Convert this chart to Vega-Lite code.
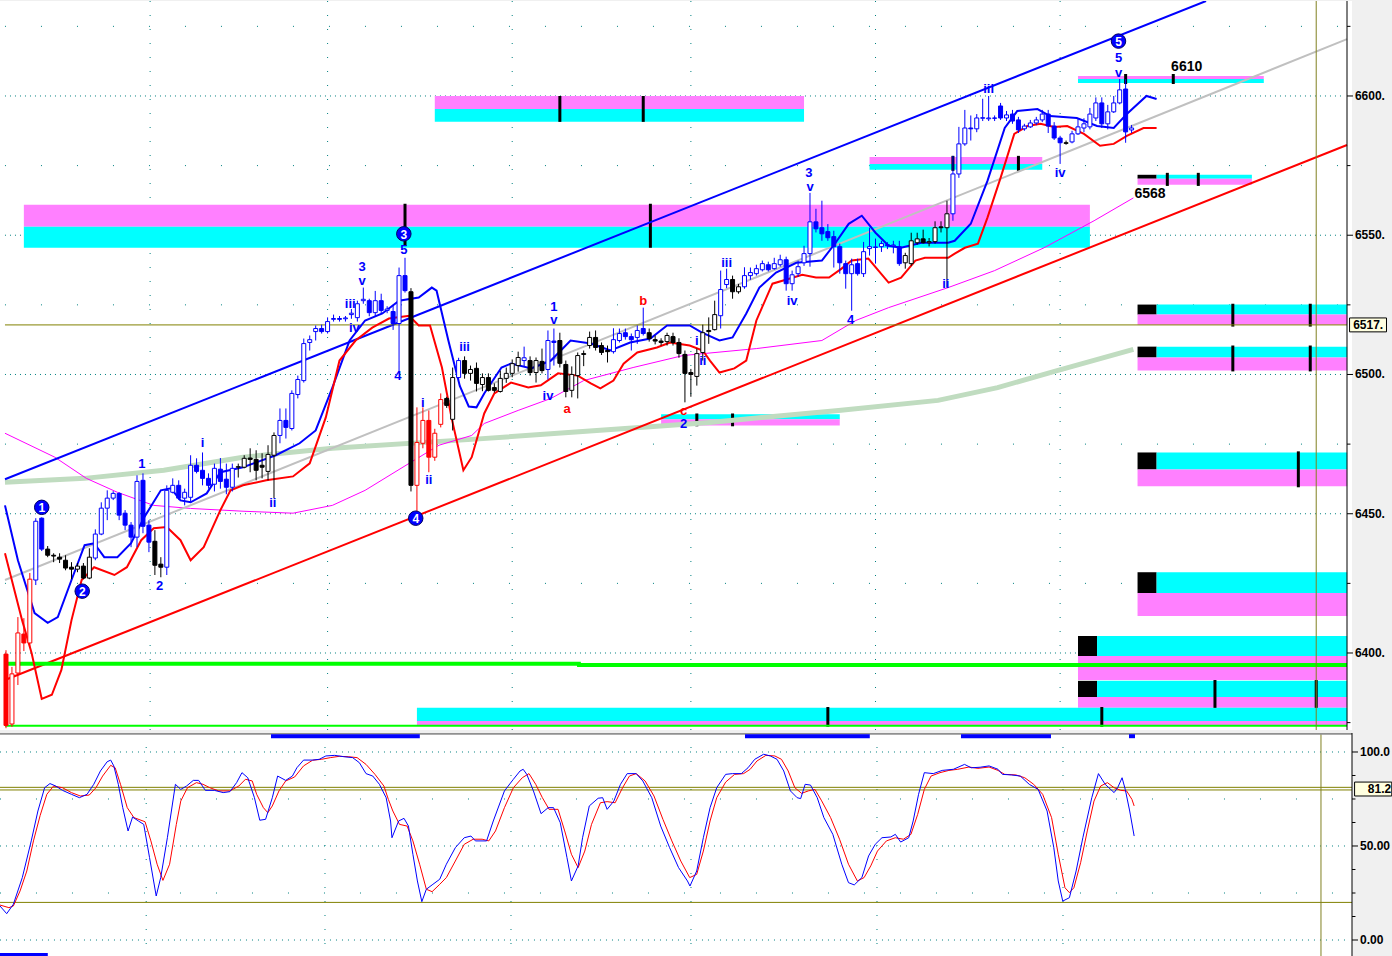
{
"$schema":"https://vega.github.io/schema/vega-lite/v6.json",
"autosize":{"type":"pad"},
"padding":0,
"spacing":3,
"bounds":"flush",
"background":"#f0f0f0",
"config":{"view":{"stroke":null,"fill":"#ffffff"},"text":{"font":"Liberation Sans"}},
"datasets":{
"candles":[
{"i":0,"o":6399.6,"h":6401,"l":6373,"c":6374,"col":"r"},
{"i":1,"o":6374.5,"h":6395,"l":6373.5,"c":6392.5,"col":"r"},
{"i":2,"o":6392.8,"h":6412.9,"l":6388.5,"c":6407.2,"col":"r"},
{"i":3,"o":6406.8,"h":6412.5,"l":6400.7,"c":6403.6,"col":"r"},
{"i":4,"o":6403.6,"h":6428.7,"l":6401.8,"c":6426.5,"col":"r"},
{"i":5,"o":6426.2,"h":6448.4,"l":6424.4,"c":6447.3,"col":"b"},
{"i":6,"o":6448.4,"h":6448.7,"l":6436.6,"c":6437.3,"col":"b"},
{"i":7,"o":6437.3,"h":6438.4,"l":6434.4,"c":6435.1,"col":"k"},
{"i":8,"o":6435.1,"h":6435.8,"l":6432.6,"c":6434.8,"col":"k"},
{"i":9,"o":6434.4,"h":6435.8,"l":6432.3,"c":6433.7,"col":"k"},
{"i":10,"o":6433.3,"h":6435.1,"l":6429.7,"c":6430.5,"col":"k"},
{"i":11,"o":6430.8,"h":6432.6,"l":6426.5,"c":6430.1,"col":"k"},
{"i":12,"o":6430.1,"h":6432.3,"l":6429,"c":6431.2,"col":"k"},
{"i":13,"o":6431.2,"h":6432.3,"l":6426.5,"c":6426.9,"col":"k"},
{"i":14,"o":6426.9,"h":6437.6,"l":6426.5,"c":6434.4,"col":"k"},
{"i":15,"o":6434.1,"h":6444.4,"l":6433.3,"c":6442.7,"col":"b"},
{"i":16,"o":6442.7,"h":6454.1,"l":6442.3,"c":6452,"col":"b"},
{"i":17,"o":6452,"h":6458.4,"l":6447.7,"c":6455.6,"col":"b"},
{"i":18,"o":6455.6,"h":6458.1,"l":6454.9,"c":6457.3,"col":"b"},
{"i":19,"o":6457.3,"h":6457.7,"l":6447.7,"c":6449.5,"col":"b"},
{"i":20,"o":6450.2,"h":6451.3,"l":6444.1,"c":6445.9,"col":"b"},
{"i":21,"o":6445.9,"h":6447,"l":6438,"c":6441.6,"col":"b"},
{"i":22,"o":6441.6,"h":6463.8,"l":6438,"c":6461.6,"col":"b"},
{"i":23,"o":6462,"h":6464.5,"l":6443,"c":6445.5,"col":"b"},
{"i":24,"o":6445.9,"h":6447.7,"l":6436.2,"c":6439.8,"col":"b"},
{"i":25,"o":6440.1,"h":6444.1,"l":6428,"c":6431.5,"col":"k"},
{"i":26,"o":6431.9,"h":6434.4,"l":6427.2,"c":6430.8,"col":"k"},
{"i":27,"o":6430.8,"h":6460.2,"l":6428,"c":6458.4,"col":"b"},
{"i":28,"o":6457.7,"h":6462.7,"l":6457.3,"c":6460.2,"col":"b"},
{"i":29,"o":6460.2,"h":6462,"l":6454.9,"c":6455.6,"col":"b"},
{"i":30,"o":6455.6,"h":6459,"l":6453,"c":6457.7,"col":"b"},
{"i":31,"o":6455.9,"h":6471,"l":6454.1,"c":6467.4,"col":"b"},
{"i":32,"o":6467.4,"h":6469.9,"l":6464.5,"c":6465.2,"col":"b"},
{"i":33,"o":6465.6,"h":6472,"l":6460.2,"c":6462.7,"col":"b"},
{"i":34,"o":6462.7,"h":6464.5,"l":6459,"c":6460.2,"col":"b"},
{"i":35,"o":6460.6,"h":6468,"l":6458,"c":6466.3,"col":"b"},
{"i":36,"o":6466,"h":6470,"l":6459,"c":6461.6,"col":"b"},
{"i":37,"o":6462.4,"h":6468,"l":6457,"c":6459.5,"col":"b"},
{"i":38,"o":6459.5,"h":6468,"l":6458,"c":6466.3,"col":"b"},
{"i":39,"o":6466.7,"h":6468,"l":6463,"c":6466.9,"col":"k"},
{"i":40,"o":6466.7,"h":6471,"l":6466.3,"c":6469.9,"col":"k"},
{"i":41,"o":6470,"h":6473.5,"l":6464.9,"c":6469.5,"col":"k"},
{"i":42,"o":6469.5,"h":6472.8,"l":6462,"c":6465.6,"col":"k"},
{"i":43,"o":6467.4,"h":6471.7,"l":6462.7,"c":6466.7,"col":"k"},
{"i":44,"o":6465.2,"h":6474.6,"l":6462,"c":6471.3,"col":"k"},
{"i":45,"o":6471,"h":6479.2,"l":6455.6,"c":6478.1,"col":"k"},
{"i":46,"o":6478.1,"h":6487.8,"l":6475.3,"c":6483.5,"col":"b"},
{"i":47,"o":6483.5,"h":6487.8,"l":6477,"c":6481,"col":"b"},
{"i":48,"o":6480.6,"h":6494.3,"l":6479.9,"c":6493.2,"col":"b"},
{"i":49,"o":6492.8,"h":6499.6,"l":6491.4,"c":6498.2,"col":"b"},
{"i":50,"o":6497.8,"h":6512.9,"l":6497.1,"c":6511.1,"col":"b"},
{"i":51,"o":6511.5,"h":6514,"l":6508.6,"c":6512.5,"col":"b"},
{"i":52,"o":6515.4,"h":6517.6,"l":6512.2,"c":6516.5,"col":"b"},
{"i":53,"o":6516.5,"h":6517.9,"l":6514.7,"c":6515.4,"col":"b"},
{"i":54,"o":6515.4,"h":6520.5,"l":6514.7,"c":6519,"col":"b"},
{"i":55,"o":6519.8,"h":6521.5,"l":6519,"c":6520.1,"col":"b"},
{"i":56,"o":6520.1,"h":6521,"l":6519,"c":6519.8,"col":"b"},
{"i":57,"o":6520,"h":6521,"l":6519,"c":6520.3,"col":"b"},
{"i":58,"o":6521.5,"h":6523.5,"l":6520,"c":6522,"col":"b"},
{"i":59,"o":6520.4,"h":6526.5,"l":6519,"c":6525.4,"col":"b"},
{"i":60,"o":6526.5,"h":6531.2,"l":6525.4,"c":6527,"col":"b"},
{"i":61,"o":6526.5,"h":6527.2,"l":6520.9,"c":6522.2,"col":"b"},
{"i":62,"o":6522.2,"h":6530,"l":6521,"c":6526.5,"col":"b"},
{"i":63,"o":6526.5,"h":6529,"l":6522,"c":6523,"col":"b"},
{"i":64,"o":6523,"h":6524.5,"l":6522,"c":6523.5,"col":"b"},
{"i":65,"o":6522.6,"h":6525,"l":6516,"c":6518.3,"col":"b"},
{"i":66,"o":6518.3,"h":6538.4,"l":6500.7,"c":6535.5,"col":"b"},
{"i":67,"o":6535.5,"h":6541.9,"l":6529.4,"c":6530.1,"col":"b"},
{"i":68,"o":6529.7,"h":6531,"l":6458,"c":6460.2,"col":"k"},
{"i":69,"o":6460.2,"h":6488.2,"l":6447.7,"c":6475.6,"col":"r"},
{"i":70,"o":6475.3,"h":6488.2,"l":6473.5,"c":6483.5,"col":"r"},
{"i":71,"o":6483.5,"h":6487.1,"l":6464.9,"c":6470.3,"col":"r"},
{"i":72,"o":6470.3,"h":6480.5,"l":6469,"c":6478.9,"col":"r"},
{"i":73,"o":6482.1,"h":6493.2,"l":6481,"c":6491,"col":"r"},
{"i":74,"o":6491.4,"h":6492,"l":6488,"c":6488.9,"col":"k"},
{"i":75,"o":6483.9,"h":6502.5,"l":6479.9,"c":6498.9,"col":"k"},
{"i":76,"o":6498.9,"h":6506,"l":6498,"c":6505,"col":"b"},
{"i":77,"o":6505,"h":6506.5,"l":6498.5,"c":6500.4,"col":"k"},
{"i":78,"o":6500.4,"h":6503.2,"l":6497.8,"c":6501.8,"col":"k"},
{"i":79,"o":6502.2,"h":6504.3,"l":6493.9,"c":6496.8,"col":"k"},
{"i":80,"o":6496.4,"h":6500.4,"l":6494,"c":6498.9,"col":"k"},
{"i":81,"o":6498.9,"h":6500.4,"l":6493.9,"c":6494.3,"col":"k"},
{"i":82,"o":6495.3,"h":6496.8,"l":6493.5,"c":6494.3,"col":"k"},
{"i":83,"o":6493.9,"h":6501.4,"l":6493.5,"c":6498.6,"col":"k"},
{"i":84,"o":6498.6,"h":6502.5,"l":6497,"c":6500.4,"col":"k"},
{"i":85,"o":6500.4,"h":6505.4,"l":6499,"c":6503.9,"col":"k"},
{"i":86,"o":6503.2,"h":6508.2,"l":6501,"c":6506.1,"col":"k"},
{"i":87,"o":6505,"h":6510,"l":6503,"c":6506,"col":"b"},
{"i":88,"o":6505,"h":6506.5,"l":6499.6,"c":6500.7,"col":"k"},
{"i":89,"o":6500.7,"h":6506.1,"l":6497.1,"c":6505,"col":"k"},
{"i":90,"o":6504.7,"h":6509.3,"l":6500.4,"c":6501.4,"col":"k"},
{"i":91,"o":6501.8,"h":6515.8,"l":6498.2,"c":6512.2,"col":"b"},
{"i":92,"o":6512,"h":6516.5,"l":6503.2,"c":6511.5,"col":"b"},
{"i":93,"o":6512.2,"h":6515,"l":6502.5,"c":6504,"col":"k"},
{"i":94,"o":6503.6,"h":6505,"l":6491.8,"c":6493.9,"col":"k"},
{"i":95,"o":6494.3,"h":6502.9,"l":6491.8,"c":6500,"col":"k"},
{"i":96,"o":6499.6,"h":6507.9,"l":6491.4,"c":6506.8,"col":"k"},
{"i":97,"o":6507.5,"h":6508.6,"l":6503,"c":6507.2,"col":"k"},
{"i":98,"o":6510.4,"h":6515.4,"l":6509.3,"c":6513.3,"col":"k"},
{"i":99,"o":6513.3,"h":6515.8,"l":6508.6,"c":6509.7,"col":"k"},
{"i":100,"o":6510.4,"h":6511.5,"l":6507,"c":6507.9,"col":"k"},
{"i":101,"o":6508.6,"h":6510.4,"l":6504.3,"c":6508.2,"col":"k"},
{"i":102,"o":6508.2,"h":6516.6,"l":6507.5,"c":6512.5,"col":"b"},
{"i":103,"o":6512.2,"h":6516.5,"l":6511.5,"c":6514.7,"col":"b"},
{"i":104,"o":6515,"h":6516.5,"l":6512.5,"c":6513.6,"col":"b"},
{"i":105,"o":6513.6,"h":6514.7,"l":6508.6,"c":6512.5,"col":"b"},
{"i":106,"o":6513.3,"h":6517.6,"l":6511,"c":6515.8,"col":"b"},
{"i":107,"o":6516.5,"h":6524,"l":6514,"c":6514.7,"col":"b"},
{"i":108,"o":6515,"h":6516.5,"l":6511.8,"c":6512.9,"col":"k"},
{"i":109,"o":6512.5,"h":6514,"l":6510.8,"c":6512,"col":"k"},
{"i":110,"o":6512,"h":6513,"l":6510.4,"c":6511.5,"col":"k"},
{"i":111,"o":6511.8,"h":6515,"l":6510.4,"c":6514,"col":"k"},
{"i":112,"o":6513.6,"h":6515,"l":6510.4,"c":6511.5,"col":"k"},
{"i":113,"o":6511.5,"h":6513,"l":6506,"c":6507.5,"col":"k"},
{"i":114,"o":6507.2,"h":6508.6,"l":6490,"c":6500.4,"col":"k"},
{"i":115,"o":6500.7,"h":6502,"l":6492,"c":6500,"col":"k"},
{"i":116,"o":6499.3,"h":6509.3,"l":6496,"c":6507.5,"col":"k"},
{"i":117,"o":6507.9,"h":6517.9,"l":6505,"c":6515,"col":"k"},
{"i":118,"o":6515.8,"h":6520.5,"l":6511,"c":6515.4,"col":"k"},
{"i":119,"o":6516.1,"h":6526.5,"l":6515.8,"c":6521.5,"col":"k"},
{"i":120,"o":6521.1,"h":6537.3,"l":6516.5,"c":6530.5,"col":"b"},
{"i":121,"o":6532.3,"h":6538,"l":6531,"c":6534.1,"col":"b"},
{"i":122,"o":6534.1,"h":6535.5,"l":6527.2,"c":6529.7,"col":"k"},
{"i":123,"o":6529.7,"h":6532.5,"l":6529,"c":6531.5,"col":"k"},
{"i":124,"o":6531.5,"h":6538.5,"l":6530.8,"c":6535.5,"col":"b"},
{"i":125,"o":6535.5,"h":6538.4,"l":6534,"c":6536.6,"col":"b"},
{"i":126,"o":6536.2,"h":6539.4,"l":6535.5,"c":6538,"col":"b"},
{"i":127,"o":6537.6,"h":6540.9,"l":6537,"c":6539.8,"col":"b"},
{"i":128,"o":6539.4,"h":6540.5,"l":6537,"c":6537.6,"col":"b"},
{"i":129,"o":6538,"h":6541.9,"l":6537.6,"c":6539.8,"col":"b"},
{"i":130,"o":6539.4,"h":6543,"l":6538.7,"c":6541.2,"col":"b"},
{"i":131,"o":6541.2,"h":6542.3,"l":6530.1,"c":6532.6,"col":"b"},
{"i":132,"o":6532.6,"h":6537.3,"l":6530.1,"c":6535.8,"col":"b"},
{"i":133,"o":6536.2,"h":6540.9,"l":6535,"c":6538.7,"col":"b"},
{"i":134,"o":6540.1,"h":6546.2,"l":6539,"c":6543.4,"col":"b"},
{"i":135,"o":6543.4,"h":6565.2,"l":6538.7,"c":6554.8,"col":"b"},
{"i":136,"o":6554.8,"h":6559.5,"l":6551,"c":6552.3,"col":"b"},
{"i":137,"o":6552.7,"h":6562.4,"l":6548,"c":6550.5,"col":"b"},
{"i":138,"o":6551.3,"h":6554,"l":6548,"c":6549.1,"col":"b"},
{"i":139,"o":6549.5,"h":6551.6,"l":6538.4,"c":6545.9,"col":"b"},
{"i":140,"o":6545.9,"h":6547,"l":6536.2,"c":6540.1,"col":"b"},
{"i":141,"o":6539.8,"h":6540.9,"l":6530.8,"c":6536.2,"col":"b"},
{"i":142,"o":6536.2,"h":6541.6,"l":6522.9,"c":6539.4,"col":"b"},
{"i":143,"o":6539.8,"h":6541.6,"l":6535.5,"c":6536.2,"col":"b"},
{"i":144,"o":6536.2,"h":6547.6,"l":6535,"c":6544.1,"col":"b"},
{"i":145,"o":6545.2,"h":6552.7,"l":6542.7,"c":6545.9,"col":"b"},
{"i":146,"o":6545.6,"h":6548.8,"l":6539.8,"c":6545.8,"col":"b"},
{"i":147,"o":6545.9,"h":6548,"l":6544,"c":6547,"col":"b"},
{"i":148,"o":6546.6,"h":6547.5,"l":6545,"c":6546.2,"col":"b"},
{"i":149,"o":6546.2,"h":6548,"l":6543.5,"c":6546.5,"col":"b"},
{"i":150,"o":6545.9,"h":6548,"l":6539,"c":6539.8,"col":"b"},
{"i":151,"o":6540.1,"h":6543.7,"l":6538,"c":6542.7,"col":"k"},
{"i":152,"o":6539.8,"h":6550.9,"l":6539,"c":6548,"col":"k"},
{"i":153,"o":6547.3,"h":6550.9,"l":6546.6,"c":6548.7,"col":"k"},
{"i":154,"o":6548.7,"h":6552,"l":6547,"c":6547.3,"col":"k"},
{"i":155,"o":6547.3,"h":6549,"l":6546,"c":6547.7,"col":"k"},
{"i":156,"o":6547.7,"h":6555,"l":6547,"c":6552.7,"col":"k"},
{"i":157,"o":6553,"h":6555,"l":6551,"c":6552.7,"col":"k"},
{"i":158,"o":6552.7,"h":6562.4,"l":6531.2,"c":6557.7,"col":"k"},
{"i":159,"o":6557.7,"h":6578.5,"l":6555.2,"c":6572,"col":"b"},
{"i":160,"o":6572,"h":6588.9,"l":6570.6,"c":6582.8,"col":"b"},
{"i":161,"o":6582.8,"h":6595,"l":6582.1,"c":6588.5,"col":"b"},
{"i":162,"o":6588.5,"h":6593,"l":6584,"c":6588.2,"col":"b"},
{"i":163,"o":6588.2,"h":6593.5,"l":6587,"c":6592.1,"col":"b"},
{"i":164,"o":6592,"h":6599,"l":6591,"c":6592.2,"col":"b"},
{"i":165,"o":6591.8,"h":6600,"l":6591,"c":6592.1,"col":"b"},
{"i":166,"o":6592.1,"h":6593,"l":6591,"c":6592,"col":"b"},
{"i":167,"o":6596.4,"h":6597.5,"l":6591.4,"c":6592.1,"col":"b"},
{"i":168,"o":6592.1,"h":6594.6,"l":6591,"c":6593.2,"col":"b"},
{"i":169,"o":6593.5,"h":6595,"l":6590,"c":6591,"col":"b"},
{"i":170,"o":6591.4,"h":6592.5,"l":6586.7,"c":6587.8,"col":"b"},
{"i":171,"o":6588.2,"h":6590,"l":6587.5,"c":6589.2,"col":"b"},
{"i":172,"o":6588.9,"h":6591.4,"l":6588.5,"c":6590.3,"col":"b"},
{"i":173,"o":6590.3,"h":6592.5,"l":6589.5,"c":6591.4,"col":"b"},
{"i":174,"o":6591.4,"h":6595,"l":6590.6,"c":6593.5,"col":"b"},
{"i":175,"o":6593.5,"h":6595,"l":6586.7,"c":6589.2,"col":"b"},
{"i":176,"o":6589.2,"h":6590.6,"l":6584.2,"c":6584.9,"col":"b"},
{"i":177,"o":6584.9,"h":6585.7,"l":6575.6,"c":6583.2,"col":"b"},
{"i":178,"o":6583.2,"h":6584,"l":6582.5,"c":6583,"col":"k"},
{"i":179,"o":6583.5,"h":6587.5,"l":6583,"c":6586.4,"col":"b"},
{"i":180,"o":6586.4,"h":6591.7,"l":6586,"c":6588.9,"col":"b"},
{"i":181,"o":6588.5,"h":6592,"l":6587,"c":6590,"col":"b"},
{"i":182,"o":6588.9,"h":6595.7,"l":6588,"c":6593.5,"col":"b"},
{"i":183,"o":6592.1,"h":6599.5,"l":6591,"c":6597.5,"col":"b"},
{"i":184,"o":6597.5,"h":6599.5,"l":6588.5,"c":6590,"col":"b"},
{"i":185,"o":6590,"h":6596.8,"l":6588,"c":6594.3,"col":"b"},
{"i":186,"o":6594.3,"h":6600,"l":6593.9,"c":6597.5,"col":"b"},
{"i":187,"o":6597.5,"h":6606.1,"l":6597,"c":6602.2,"col":"b"},
{"i":188,"o":6602.5,"h":6606,"l":6583.2,"c":6587.1,"col":"b"},
{"i":189,"o":6587.8,"h":6589.6,"l":6586.7,"c":6588.5,"col":"b"}
],
"zones":[
{"x1":72,"x2":134,"y1":6600,"y2":6595.3,"k":"pink"},
{"x1":72,"x2":134,"y1":6595.3,"y2":6590.7,"k":"cyan"},
{"x1":3,"x2":182,"y1":6560.9,"y2":6553,"k":"pink"},
{"x1":3,"x2":182,"y1":6553,"y2":6545.5,"k":"cyan"},
{"x1":145,"x2":174,"y1":6578.1,"y2":6575.6,"k":"pink"},
{"x1":145,"x2":174,"y1":6575.6,"y2":6573.5,"k":"cyan"},
{"x1":180,"x2":211.2,"y1":6607.2,"y2":6606.1,"k":"pink"},
{"x1":180,"x2":211.2,"y1":6606.1,"y2":6604.7,"k":"cyan"},
{"x1":190,"x2":193.2,"y1":6571.7,"y2":6570.3,"k":"black"},
{"x1":193.2,"x2":209.2,"y1":6571.7,"y2":6570.3,"k":"cyan"},
{"x1":190,"x2":209.2,"y1":6570.3,"y2":6568.1,"k":"pink"},
{"x1":190,"x2":193.2,"y1":6525.1,"y2":6521.5,"k":"black"},
{"x1":193.2,"x2":225.2,"y1":6525.1,"y2":6521.5,"k":"cyan"},
{"x1":190,"x2":225.2,"y1":6521.5,"y2":6517.9,"k":"pink"},
{"x1":190,"x2":193.2,"y1":6510,"y2":6506.1,"k":"black"},
{"x1":193.2,"x2":225.2,"y1":6510,"y2":6506.1,"k":"cyan"},
{"x1":190,"x2":225.2,"y1":6506.1,"y2":6501.4,"k":"pink"},
{"x1":190,"x2":193.2,"y1":6472,"y2":6465.9,"k":"black"},
{"x1":193.2,"x2":225.2,"y1":6472,"y2":6465.9,"k":"cyan"},
{"x1":190,"x2":225.2,"y1":6465.9,"y2":6459.9,"k":"pink"},
{"x1":190,"x2":193.2,"y1":6429,"y2":6421.5,"k":"black"},
{"x1":193.2,"x2":225.2,"y1":6429,"y2":6421.5,"k":"cyan"},
{"x1":190,"x2":225.2,"y1":6421.5,"y2":6413.3,"k":"pink"},
{"x1":180,"x2":183.2,"y1":6406.1,"y2":6398.9,"k":"black"},
{"x1":183.2,"x2":225.2,"y1":6406.1,"y2":6398.9,"k":"cyan"},
{"x1":180,"x2":225.2,"y1":6398.9,"y2":6390.3,"k":"pink"},
{"x1":180,"x2":183.2,"y1":6390,"y2":6384.2,"k":"black"},
{"x1":183.2,"x2":225.2,"y1":6390,"y2":6384.2,"k":"cyan"},
{"x1":180,"x2":225.2,"y1":6384.2,"y2":6380.3,"k":"pink"},
{"x1":69,"x2":225.2,"y1":6380.3,"y2":6375.6,"k":"cyan"},
{"x1":69,"x2":225.2,"y1":6375.6,"y2":6373.8,"k":"pink"},
{"x1":110,"x2":140,"y1":6485.7,"y2":6483.9,"k":"cyan"},
{"x1":110,"x2":140,"y1":6483.9,"y2":6481.7,"k":"pink"}
],
"zoneTicks":[
{"i":93,"y1":6600,"y2":6590.7},{"i":107,"y1":6600,"y2":6590.7},
{"i":67,"y1":6561.3,"y2":6546.2},{"i":108.2,"y1":6561.3,"y2":6545.5},
{"i":159,"y1":6578.5,"y2":6573.1},{"i":170,"y1":6578.5,"y2":6573.1},
{"i":188,"y1":6607.9,"y2":6604.3},{"i":196,"y1":6607.9,"y2":6604.3},
{"i":195,"y1":6572.4,"y2":6567.7},{"i":200.2,"y1":6572.4,"y2":6567.7},
{"i":206,"y1":6525.4,"y2":6517.2},{"i":219,"y1":6525.4,"y2":6517.2},
{"i":206,"y1":6510.4,"y2":6501.1},{"i":219,"y1":6510.4,"y2":6501.1},
{"i":217,"y1":6472.4,"y2":6459.5},
{"i":203,"y1":6390.3,"y2":6380.3},{"i":220,"y1":6390.3,"y2":6380.3},
{"i":138,"y1":6380.6,"y2":6373.5},{"i":184,"y1":6380.6,"y2":6373.5},
{"i":116,"y1":6486,"y2":6481.4},{"i":122,"y1":6486,"y2":6481.4}
],
"maGreen":[
{"i":-0.17,"p":6461.3},{"i":13.2,"p":6462.7},{"i":26.5,"p":6465.6},{"i":39.8,"p":6470.3},{"i":54.8,"p":6473.5},{"i":78.2,"p":6476.7},{"i":99.8,"p":6480},{"i":118.2,"p":6482.8},{"i":139.8,"p":6487.1},{"i":156.5,"p":6490.7},{"i":166.5,"p":6495.3},{"i":176.5,"p":6501.4},{"i":189.3,"p":6509}
],
"maMag":[
{"i":-0.17,"p":6478.9},{"i":8.2,"p":6470.3},{"i":13.5,"p":6462.7},{"i":18.7,"p":6457.7},{"i":24.8,"p":6453},{"i":31,"p":6451.9},{"i":39.8,"p":6450.9},{"i":48.2,"p":6450.2},{"i":54.8,"p":6453},{"i":60.3,"p":6458.4},{"i":67.7,"p":6468.1},{"i":72.7,"p":6474.6},{"i":78.2,"p":6478.1},{"i":80.3,"p":6482.4},{"i":86,"p":6487.1},{"i":91.5,"p":6491.4},{"i":97,"p":6497.8},{"i":105.3,"p":6502.5},{"i":113.7,"p":6506.8},{"i":126,"p":6509.3},{"i":137,"p":6512.2},{"i":142.7,"p":6519.4},{"i":148.2,"p":6524},{"i":158.2,"p":6531.2},{"i":166,"p":6537.3},{"i":174.3,"p":6545.5},{"i":182.7,"p":6555.2},{"i":189.3,"p":6563.4}
],
"straight":[
{"s":"gray","i":-0.17,"p":6426.2},{"s":"gray","i":225.17,"p":6620.4},
{"s":"chblue","i":-0.17,"p":6462.4},{"s":"chblue","i":201.5,"p":6634.1},
{"s":"chred","i":-0.17,"p":6390.3},{"s":"chred","i":225.17,"p":6582.4}
],
"bandBlue":[
{"i":-0.17,"p":6453},{"i":2,"p":6433.3},{"i":4.8,"p":6414.3},{"i":7,"p":6410.8},{"i":8.7,"p":6412.9},{"i":11,"p":6426.2},{"i":13.2,"p":6438.7},{"i":14.8,"p":6439.4},{"i":16.5,"p":6434.4},{"i":18.7,"p":6434.4},{"i":21,"p":6439.4},{"i":23.2,"p":6448.7},{"i":26,"p":6458.4},{"i":27.7,"p":6459.1},{"i":29.3,"p":6454.8},{"i":31,"p":6454.1},{"i":33.7,"p":6457.3},{"i":36,"p":6464.9},{"i":39.8,"p":6466.7},{"i":45.3,"p":6471},{"i":49.3,"p":6475.3},{"i":52,"p":6479.9},{"i":54.8,"p":6495.3},{"i":57.7,"p":6512.2},{"i":60.3,"p":6519.4},{"i":63.2,"p":6521.9},{"i":66,"p":6526.5},{"i":69.3,"p":6527.6},{"i":71.5,"p":6531.2},{"i":72.3,"p":6530.1},{"i":74.3,"p":6512},{"i":76.2,"p":6495.9},{"i":77.7,"p":6488.5},{"i":79,"p":6488.2},{"i":80.3,"p":6493.2},{"i":83.2,"p":6502.5},{"i":84.8,"p":6503.9},{"i":88.2,"p":6502.2},{"i":91.5,"p":6505},{"i":94.8,"p":6512.2},{"i":98.2,"p":6511.1},{"i":101.5,"p":6508.6},{"i":104.8,"p":6511.5},{"i":108.2,"p":6512.9},{"i":111,"p":6517.6},{"i":114.8,"p":6517.6},{"i":116.8,"p":6515.1},{"i":119.8,"p":6512.2},{"i":122,"p":6513.3},{"i":124.3,"p":6521.9},{"i":126.5,"p":6531.2},{"i":129.3,"p":6536.6},{"i":132.7,"p":6540.1},{"i":137,"p":6540.9},{"i":139.3,"p":6547.3},{"i":141.5,"p":6554.1},{"i":143.7,"p":6557},{"i":146,"p":6550.9},{"i":148.2,"p":6546.2},{"i":150.3,"p":6545.5},{"i":153.7,"p":6547.3},{"i":158.2,"p":6547.3},{"i":159.3,"p":6548},{"i":162,"p":6554.1},{"i":164.8,"p":6569.5},{"i":167.7,"p":6588.5},{"i":169.8,"p":6594.6},{"i":173.2,"p":6595.3},{"i":175.3,"p":6592.8},{"i":179.8,"p":6592.1},{"i":183.2,"p":6589.2},{"i":186,"p":6588.5},{"i":188.2,"p":6593.5},{"i":191.5,"p":6600},{"i":193.2,"p":6598.9}
],
"bandRed":[
{"i":-0.17,"p":6435.8},{"i":2.7,"p":6411.8},{"i":4.3,"p":6400},{"i":6,"p":6383.5},{"i":7.7,"p":6385},{"i":9.3,"p":6393.9},{"i":11,"p":6411.8},{"i":12.7,"p":6426.2},{"i":14.8,"p":6430.8},{"i":18.2,"p":6428},{"i":20.3,"p":6430.8},{"i":22.7,"p":6440.5},{"i":24.8,"p":6444.8},{"i":27,"p":6445.2},{"i":29.3,"p":6440.5},{"i":31,"p":6433.3},{"i":33.2,"p":6438},{"i":36,"p":6451.3},{"i":37.7,"p":6458.4},{"i":39.8,"p":6460.2},{"i":43.7,"p":6462},{"i":48.2,"p":6463.4},{"i":51,"p":6468.1},{"i":53.7,"p":6484.6},{"i":56,"p":6505},{"i":58.7,"p":6512.2},{"i":61.5,"p":6516.8},{"i":64.3,"p":6520.1},{"i":67.7,"p":6521.1},{"i":69.3,"p":6517.6},{"i":71.2,"p":6517.6},{"i":73.2,"p":6502.5},{"i":74.8,"p":6484.6},{"i":76.8,"p":6465.6},{"i":78.2,"p":6470.3},{"i":80.3,"p":6486},{"i":82,"p":6493.2},{"i":84.8,"p":6497.1},{"i":87.7,"p":6495.3},{"i":89.8,"p":6496.1},{"i":92.7,"p":6500.4},{"i":96,"p":6499.6},{"i":98.2,"p":6496.8},{"i":99.8,"p":6495},{"i":102,"p":6497.8},{"i":103.7,"p":6503.9},{"i":106,"p":6507.9},{"i":109.3,"p":6509.7},{"i":111.5,"p":6511.5},{"i":114.8,"p":6510.4},{"i":117,"p":6508.6},{"i":118.2,"p":6505},{"i":119.8,"p":6500.7},{"i":122.3,"p":6502.2},{"i":124.3,"p":6505},{"i":126,"p":6519.4},{"i":128.7,"p":6532.6},{"i":131.5,"p":6534.4},{"i":133.7,"p":6535.8},{"i":136,"p":6534.8},{"i":138.2,"p":6534.8},{"i":140.3,"p":6538},{"i":142,"p":6540.9},{"i":144.8,"p":6541.6},{"i":146.5,"p":6537.3},{"i":148.2,"p":6533},{"i":150.3,"p":6534.8},{"i":152.7,"p":6540.9},{"i":154.3,"p":6541.9},{"i":158.2,"p":6541.9},{"i":159.3,"p":6543.4},{"i":161,"p":6545.5},{"i":163.2,"p":6547},{"i":164.8,"p":6556.3},{"i":167,"p":6570.6},{"i":169.3,"p":6586.4},{"i":171.5,"p":6589.2},{"i":173.7,"p":6590},{"i":176,"p":6588.9},{"i":178.2,"p":6589.2},{"i":181,"p":6586.4},{"i":183.7,"p":6582.1},{"i":186,"p":6582.8},{"i":188.2,"p":6585.7},{"i":191,"p":6588.5},{"i":193.2,"p":6588.5}
],
"greenLevel":[
{"i":-0.17,"p":6396.1},{"i":96.2,"p":6396.1},{"i":96.21,"p":6395.7},{"i":225.17,"p":6395.7}
],
"mainLevels":[
{"p":6517.8,"x1":-0.17,"x2":225.17,"kind":"olive"},
{"p":6373.9,"x1":-0.17,"x2":225.17,"kind":"green"}
],
"mainGrid":[
{"p":6600,"kind":"dense"},{"p":6550,"kind":"dense"},{"p":6500,"kind":"dense"},{"p":6450,"kind":"dense"},{"p":6400,"kind":"dense"},
{"p":6625,"kind":"sparse"},{"p":6575,"kind":"sparse"},{"p":6525,"kind":"sparse"},{"p":6475,"kind":"sparse"},{"p":6425,"kind":"sparse"}
],
"vGrid":[{"i":24.2},{"i":54},{"i":85},{"i":115},{"i":146},{"i":177}],
"vMark":[{"i":220}],
"axisLine":[{"i":225.17}],
"mainTicks":[{"p":6600,"t":"6600."},{"p":6550,"t":"6550."},{"p":6500,"t":"6500."},{"p":6450,"t":"6450."},{"p":6400,"t":"6400."}],
"mainMinor":[{"p":6625},{"p":6575},{"p":6525},{"p":6475},{"p":6425},{"p":6375}],
"labelsBlue":[
{"i":22.8,"p":6467.7,"t":"1"},{"i":25.8,"p":6424,"t":"2"},{"i":33,"p":6475.3,"t":"i"},{"i":44.8,"p":6453.8,"t":"ii"},
{"i":59.8,"p":6538.7,"t":"3"},{"i":59.8,"p":6533.7,"t":"v"},{"i":57.8,"p":6525.4,"t":"iii"},{"i":58.5,"p":6516.8,"t":"iv"},
{"i":66.8,"p":6544.8,"t":"5"},{"i":65.8,"p":6499.6,"t":"4"},{"i":70,"p":6489.6,"t":"i"},{"i":71,"p":6462,"t":"ii"},{"i":77,"p":6510,"t":"iii"},
{"i":92,"p":6524.4,"t":"1"},{"i":92,"p":6519.4,"t":"v"},{"i":91,"p":6492.1,"t":"iv"},{"i":113.8,"p":6482.1,"t":"2"},
{"i":116,"p":6512.2,"t":"i"},{"i":117,"p":6505,"t":"ii"},{"i":121,"p":6540.1,"t":"iii"},{"i":132,"p":6526.5,"t":"iv"},
{"i":134.8,"p":6572.4,"t":"3"},{"i":135,"p":6567.4,"t":"v"},{"i":141.8,"p":6519.4,"t":"4"},{"i":157.8,"p":6532.6,"t":"ii"},
{"i":165,"p":6602.5,"t":"iii"},{"i":177,"p":6572.4,"t":"iv"},{"i":186.8,"p":6613.6,"t":"5"},{"i":186.8,"p":6608.2,"t":"v"}
],
"labelsRed":[{"i":94.2,"p":6487.5,"t":"a"},{"i":107,"p":6526.5,"t":"b"},{"i":113.8,"p":6486.8,"t":"c"}],
"labelsBlack":[{"i":198.25,"p":6610.4,"t":"6610"},{"i":192.1,"p":6564.9,"t":"6568"}],
"circles":[{"i":6,"p":6452.3,"t":"1"},{"i":12.8,"p":6422.2,"t":"2"},{"i":66.8,"p":6550.5,"t":"3"},{"i":68.8,"p":6448.4,"t":"4"},{"i":186.8,"p":6619.7,"t":"5"}],
"priceBox":[{"p":6517.8,"top":6520.3,"bottom":6515.3,"t":"6517."}],
"stochK":[
{"i":-0.17,"v":18.1},{"i":0.95,"v":14},{"i":2.06,"v":19},{"i":3.55,"v":33.2},{"i":5.04,"v":52.7},{"i":6.15,"v":68.6},{"i":7.27,"v":81},{"i":8.16,"v":83.2},{"i":9.13,"v":81.9},{"i":10.25,"v":79.6},{"i":11.73,"v":77.5},{"i":13.07,"v":75.7},{"i":14.34,"v":77.5},{"i":15.46,"v":82.8},{"i":16.57,"v":89.9},{"i":17.69,"v":94.8},{"i":18.28,"v":95.7},{"i":18.8,"v":92.6},{"i":19.55,"v":82.8},{"i":20.29,"v":70.4},{"i":21.18,"v":58},{"i":21.93,"v":65.4},{"i":22.9,"v":63.3},{"i":23.79,"v":61.5},{"i":24.76,"v":43.8},{"i":25.87,"v":23.4},{"i":26.62,"v":33.2},{"i":27.73,"v":54.4},{"i":29.07,"v":82.8},{"i":29.96,"v":80.1},{"i":30.93,"v":81.9},{"i":32.05,"v":84.9},{"i":32.94,"v":84.9},{"i":34.06,"v":79.6},{"i":35.55,"v":79.6},{"i":37.03,"v":78.4},{"i":38.15,"v":78.9},{"i":39.27,"v":83.7},{"i":40.16,"v":89},{"i":41.13,"v":86.3},{"i":42.24,"v":75.7},{"i":43.13,"v":63.7},{"i":44.1,"v":64.2},{"i":45.22,"v":75.7},{"i":46.11,"v":87.2},{"i":47.45,"v":84.9},{"i":48.57,"v":87.2},{"i":49.31,"v":91.6},{"i":50.43,"v":95.7},{"i":51.92,"v":95.7},{"i":53.03,"v":96.1},{"i":54.15,"v":97.9},{"i":55.63,"v":98.2},{"i":57.12,"v":97.5},{"i":58.61,"v":97},{"i":59.73,"v":94.3},{"i":60.84,"v":88.5},{"i":61.96,"v":87.2},{"i":63.07,"v":82.8},{"i":64.19,"v":75.7},{"i":64.93,"v":63.3},{"i":65.16,"v":54.4},{"i":66.27,"v":63.3},{"i":67.17,"v":64.7},{"i":67.91,"v":60.6},{"i":68.65,"v":45.6},{"i":69.4,"v":31.4},{"i":70.14,"v":20.4},{"i":70.89,"v":27},{"i":71.85,"v":29.3},{"i":73.12,"v":32.3},{"i":74.23,"v":40.3},{"i":75.72,"v":49.1},{"i":77.21,"v":54.4},{"i":78.33,"v":55.3},{"i":79.07,"v":52.7},{"i":80.93,"v":52.7},{"i":82.05,"v":63.3},{"i":83.91,"v":79.3},{"i":85.4,"v":85.5},{"i":86.51,"v":89.9},{"i":87.03,"v":90.8},{"i":87.63,"v":88.1},{"i":88.74,"v":79.3},{"i":90.01,"v":67.2},{"i":91.2,"v":70.4},{"i":92.09,"v":70.4},{"i":93.21,"v":62.4},{"i":94.33,"v":43.8},{"i":95.07,"v":31.4},{"i":96.19,"v":39.4},{"i":96.93,"v":54.4},{"i":98.05,"v":71.3},{"i":99.53,"v":75.4},{"i":100.28,"v":75.7},{"i":101.02,"v":69.5},{"i":102.14,"v":73.9},{"i":103.25,"v":82.8},{"i":104.37,"v":88.5},{"i":105.86,"v":88.5},{"i":106.97,"v":84.6},{"i":108.46,"v":75.7},{"i":109.95,"v":60.6},{"i":111.44,"v":49.1},{"i":112.93,"v":38.5},{"i":114.41,"v":31.4},{"i":114.83,"v":28.7},{"i":115.95,"v":36.7},{"i":117.06,"v":54.4},{"i":118.18,"v":70.4},{"i":119.29,"v":81},{"i":120.78,"v":88.1},{"i":121.9,"v":88.5},{"i":123.39,"v":88.5},{"i":124.5,"v":91.6},{"i":125.62,"v":96.1},{"i":127.11,"v":98.8},{"i":128.22,"v":97.9},{"i":129.34,"v":96.1},{"i":130.46,"v":89.9},{"i":131.57,"v":79.3},{"i":132.69,"v":75.7},{"i":133.28,"v":75.2},{"i":134.03,"v":82.8},{"i":134.92,"v":82.4},{"i":136.04,"v":75.7},{"i":137.15,"v":65.1},{"i":138.64,"v":56.2},{"i":140.13,"v":40.3},{"i":141.25,"v":30.5},{"i":142.21,"v":29.3},{"i":143.48,"v":33.2},{"i":144.6,"v":44.7},{"i":145.71,"v":50.9},{"i":146.83,"v":54.4},{"i":148.31,"v":54.8},{"i":149.06,"v":56.2},{"i":149.95,"v":52.1},{"i":151.29,"v":54.4},{"i":152.03,"v":63.3},{"i":152.93,"v":77.5},{"i":153.89,"v":89},{"i":155.38,"v":88.5},{"i":156.87,"v":90.2},{"i":158.73,"v":90.8},{"i":160.59,"v":93.4},{"i":161.71,"v":91.6},{"i":163.19,"v":91.9},{"i":164.68,"v":92.6},{"i":166.17,"v":90.8},{"i":166.91,"v":88.1},{"i":168.4,"v":87.8},{"i":169.89,"v":87.2},{"i":171.38,"v":82.8},{"i":172.86,"v":80.1},{"i":174.35,"v":68.6},{"i":175.47,"v":49.1},{"i":176.21,"v":31.4},{"i":176.96,"v":20.7},{"i":178.07,"v":22.5},{"i":179.19,"v":36.7},{"i":180.31,"v":54.4},{"i":181.8,"v":75.7},{"i":182.91,"v":88.5},{"i":184.03,"v":82.8},{"i":185.52,"v":78.4},{"i":186.11,"v":81},{"i":186.85,"v":86.3},{"i":187.38,"v":80.1},{"i":188.12,"v":68.6},{"i":188.86,"v":55.3}
],
"stochD":[
{"i":-0.17,"v":18.6},{"i":1.32,"v":17.2},{"i":2.06,"v":18.1},{"i":3.18,"v":26.1},{"i":4.3,"v":36.7},{"i":5.41,"v":52.7},{"i":6.53,"v":66.3},{"i":7.64,"v":77.5},{"i":8.76,"v":81.9},{"i":10.25,"v":81},{"i":11.73,"v":78.4},{"i":13.22,"v":76.6},{"i":14.71,"v":77.1},{"i":15.83,"v":81},{"i":16.94,"v":87.2},{"i":18.28,"v":92.9},{"i":19.03,"v":91.6},{"i":19.92,"v":82.8},{"i":21.04,"v":70.4},{"i":22.15,"v":65.1},{"i":24.01,"v":62.9},{"i":24.98,"v":52.7},{"i":26.02,"v":40.3},{"i":26.99,"v":31.7},{"i":28.1,"v":40.3},{"i":29.22,"v":61.5},{"i":29.96,"v":73.9},{"i":31.08,"v":81},{"i":32.57,"v":83.7},{"i":33.68,"v":82.8},{"i":34.8,"v":81},{"i":36.29,"v":79.3},{"i":38.15,"v":79.3},{"i":39.64,"v":81.9},{"i":40.75,"v":85.5},{"i":41.87,"v":84.6},{"i":42.61,"v":77.5},{"i":43.73,"v":70.4},{"i":44.47,"v":67.7},{"i":45.22,"v":71.3},{"i":46.33,"v":79.3},{"i":47.45,"v":84.6},{"i":48.94,"v":86.7},{"i":50.43,"v":92.6},{"i":51.92,"v":95.6},{"i":53.4,"v":96.1},{"i":54.89,"v":97},{"i":56.38,"v":97.7},{"i":57.87,"v":97.5},{"i":59.35,"v":97},{"i":60.84,"v":93.4},{"i":62.33,"v":88.1},{"i":63.82,"v":81.9},{"i":64.56,"v":74.8},{"i":65.31,"v":68.6},{"i":66.42,"v":61.5},{"i":67.69,"v":60.6},{"i":68.65,"v":52.7},{"i":69.77,"v":40.3},{"i":70.89,"v":27},{"i":71.85,"v":25.7},{"i":73.12,"v":29.6},{"i":74.23,"v":33.2},{"i":75.72,"v":42},{"i":77.21,"v":50.9},{"i":78.7,"v":53.6},{"i":80.19,"v":53.6},{"i":81.3,"v":52.7},{"i":82.42,"v":58},{"i":83.91,"v":70.4},{"i":85.4,"v":81},{"i":86.88,"v":86.3},{"i":88,"v":88.5},{"i":89.12,"v":82.8},{"i":90.23,"v":75.7},{"i":91.35,"v":69.5},{"i":92.84,"v":69.5},{"i":93.95,"v":58},{"i":95.07,"v":45.6},{"i":96.19,"v":38.5},{"i":97.3,"v":47.3},{"i":98.42,"v":61.5},{"i":99.9,"v":73},{"i":101.02,"v":73.6},{"i":102.36,"v":73},{"i":103.6,"v":81},{"i":104.74,"v":87.2},{"i":105.86,"v":88.5},{"i":107.35,"v":84.6},{"i":108.83,"v":76.6},{"i":110.32,"v":64.2},{"i":111.81,"v":52.7},{"i":113.3,"v":42},{"i":114.79,"v":33.2},{"i":115.95,"v":34.9},{"i":117.06,"v":47.3},{"i":118.18,"v":63.3},{"i":119.29,"v":75.7},{"i":120.78,"v":84},{"i":122.27,"v":88.1},{"i":123.76,"v":88.5},{"i":124.87,"v":90.8},{"i":125.99,"v":95.2},{"i":127.48,"v":98.2},{"i":128.97,"v":97.9},{"i":130.08,"v":96.1},{"i":131.2,"v":89.9},{"i":132.31,"v":81},{"i":133.43,"v":78},{"i":134.55,"v":79.3},{"i":135.66,"v":80.1},{"i":136.78,"v":74},{"i":138.27,"v":65.1},{"i":139.76,"v":53.6},{"i":141.25,"v":40.3},{"i":142.73,"v":31.4},{"i":143.85,"v":33.2},{"i":144.96,"v":39.4},{"i":146.08,"v":47.3},{"i":147.57,"v":52.7},{"i":149.06,"v":54.4},{"i":150.4,"v":53.6},{"i":151.66,"v":56.2},{"i":152.78,"v":66.8},{"i":153.89,"v":80.1},{"i":155.01,"v":87.2},{"i":156.5,"v":89},{"i":157.98,"v":90.2},{"i":159.47,"v":90.8},{"i":161.33,"v":92},{"i":162.82,"v":91.3},{"i":164.68,"v":92},{"i":166.17,"v":90.2},{"i":167.29,"v":88.1},{"i":169.15,"v":87.8},{"i":170.63,"v":86.3},{"i":172.12,"v":82.8},{"i":173.61,"v":77.5},{"i":175.1,"v":65.1},{"i":176.21,"v":45.6},{"i":177.33,"v":27.8},{"i":178.07,"v":25.2},{"i":178.82,"v":27.8},{"i":179.94,"v":41.1},{"i":181.05,"v":58},{"i":182.17,"v":73.9},{"i":183.28,"v":81.9},{"i":184.4,"v":83.7},{"i":185.52,"v":81},{"i":186.63,"v":79.6},{"i":187.6,"v":79.3},{"i":188.49,"v":74.8},{"i":188.86,"v":71.3}
],
"stochLevels":[{"v":81.2},{"v":79.8},{"v":20}],
"stochGrid":[{"v":100,"kind":"dense"},{"v":50,"kind":"dense"},{"v":0,"kind":"dense"},{"v":75,"kind":"sparse"},{"v":25,"kind":"sparse"}],
"stochBars":[{"x1":45,"x2":69.8,"v":108.4},{"x1":124,"x2":144.8,"v":108.4},{"x1":160,"x2":175,"v":108.4},{"x1":188,"x2":189,"v":108.4},{"x1":-0.17,"x2":7.8,"v":-8}],
"stochTicks":[{"v":100,"t":"100.0"},{"v":50,"t":"50.00"},{"v":0,"t":"0.00"}],
"stochMinor":[{"v":75},{"v":25},{"v":87.5},{"v":62.5},{"v":37.5},{"v":12.5}],
"stochBox":[{"top":84,"bottom":76.6,"mid":80.3,"t":"81.2"}],
"sep":[{"v":109.7}]
},
"vconcat":[
{
"width":1352,"height":729,
"resolve":{"scale":{"fill":"independent","stroke":"independent","color":"independent","strokeDash":"independent","strokeWidth":"independent"}},
"layer":[
{"data":{"name":"mainGrid"},"mark":{"type":"rule","color":"#008080","strokeWidth":1,"clip":true},
 "encoding":{"y":{"field":"p","type":"quantitative","scale":{"domain":[6372.35,6634.1],"nice":false,"zero":false},"axis":null},
  "x":{"datum":-0.17,"type":"quantitative","scale":{"domain":[-0.1667,225.17],"nice":false,"zero":false},"axis":null},"x2":{"datum":224.6},
  "strokeDash":{"field":"kind","type":"nominal","scale":{"domain":["dense","sparse"],"range":[[1,4],[1,35]]},"legend":null}}},
{"data":{"name":"vGrid"},"mark":{"type":"rule","color":"#008080","strokeWidth":1,"strokeDash":[1,13],"clip":true},
 "encoding":{"x":{"field":"i","type":"quantitative","scale":{"domain":[-0.1667,225.17],"nice":false,"zero":false},"axis":null}}},
{"data":{"name":"zones"},"mark":{"type":"rect","clip":true},
 "encoding":{"x":{"field":"x1","type":"quantitative","scale":{"domain":[-0.1667,225.17],"nice":false,"zero":false},"axis":null},"x2":{"field":"x2"},
  "y":{"field":"y1","type":"quantitative","scale":{"domain":[6372.35,6634.1],"nice":false,"zero":false},"axis":null},"y2":{"field":"y2"},
  "fill":{"field":"k","type":"nominal","scale":{"domain":["pink","cyan","black"],"range":["#ff80ff","#00ffff","#000000"]},"legend":null}}},
{"data":{"name":"zoneTicks"},"mark":{"type":"rule","color":"#000000","strokeWidth":3,"clip":true},
 "encoding":{"x":{"field":"i","type":"quantitative","scale":{"domain":[-0.1667,225.17],"nice":false,"zero":false},"axis":null},
  "y":{"field":"y1","type":"quantitative","scale":{"domain":[6372.35,6634.1],"nice":false,"zero":false},"axis":null},"y2":{"field":"y2"}}},
{"data":{"name":"maGreen"},"mark":{"type":"line","color":"#c0dcc0","strokeWidth":5,"clip":true},
 "encoding":{"x":{"field":"i","type":"quantitative","scale":{"domain":[-0.1667,225.17],"nice":false,"zero":false},"axis":null},
  "y":{"field":"p","type":"quantitative","scale":{"domain":[6372.35,6634.1],"nice":false,"zero":false},"axis":null}}},
{"data":{"name":"maMag"},"mark":{"type":"line","color":"#ff00ff","strokeWidth":1,"clip":true},
 "encoding":{"x":{"field":"i","type":"quantitative","scale":{"domain":[-0.1667,225.17],"nice":false,"zero":false},"axis":null},
  "y":{"field":"p","type":"quantitative","scale":{"domain":[6372.35,6634.1],"nice":false,"zero":false},"axis":null}}},
{"data":{"name":"straight"},"mark":{"type":"line","strokeWidth":2,"clip":true},
 "encoding":{"x":{"field":"i","type":"quantitative","scale":{"domain":[-0.1667,225.17],"nice":false,"zero":false},"axis":null},
  "y":{"field":"p","type":"quantitative","scale":{"domain":[6372.35,6634.1],"nice":false,"zero":false},"axis":null},
  "color":{"field":"s","type":"nominal","scale":{"domain":["gray","chblue","chred"],"range":["#c0c0c0","#0000ff","#ff0000"]},"legend":null}}},
{"data":{"name":"mainLevels"},"mark":{"type":"rule","clip":true},
 "encoding":{"y":{"field":"p","type":"quantitative","scale":{"domain":[6372.35,6634.1],"nice":false,"zero":false},"axis":null},
  "x":{"field":"x1","type":"quantitative","scale":{"domain":[-0.1667,225.17],"nice":false,"zero":false},"axis":null},"x2":{"field":"x2"},
  "stroke":{"field":"kind","type":"nominal","scale":{"domain":["olive","green"],"range":["#808000","#00ff00"]},"legend":null},
  "strokeWidth":{"field":"kind","type":"nominal","scale":{"domain":["olive","green"],"range":[1,2]},"legend":null}}},
{"data":{"name":"greenLevel"},"mark":{"type":"line","color":"#00ff00","strokeWidth":4,"clip":true},
 "encoding":{"x":{"field":"i","type":"quantitative","scale":{"domain":[-0.1667,225.17],"nice":false,"zero":false},"axis":null},
  "y":{"field":"p","type":"quantitative","scale":{"domain":[6372.35,6634.1],"nice":false,"zero":false},"axis":null}}},
{"data":{"name":"vMark"},"mark":{"type":"rule","color":"#808020","strokeWidth":1,"clip":true},
 "encoding":{"x":{"field":"i","type":"quantitative","scale":{"domain":[-0.1667,225.17],"nice":false,"zero":false},"axis":null}}},
{"data":{"name":"bandBlue"},"mark":{"type":"line","color":"#0000ff","strokeWidth":2,"clip":true},
 "encoding":{"x":{"field":"i","type":"quantitative","scale":{"domain":[-0.1667,225.17],"nice":false,"zero":false},"axis":null},
  "y":{"field":"p","type":"quantitative","scale":{"domain":[6372.35,6634.1],"nice":false,"zero":false},"axis":null}}},
{"data":{"name":"bandRed"},"mark":{"type":"line","color":"#ff0000","strokeWidth":2,"clip":true},
 "encoding":{"x":{"field":"i","type":"quantitative","scale":{"domain":[-0.1667,225.17],"nice":false,"zero":false},"axis":null},
  "y":{"field":"p","type":"quantitative","scale":{"domain":[6372.35,6634.1],"nice":false,"zero":false},"axis":null}}},
{"data":{"name":"candles"},"mark":{"type":"rule","strokeWidth":1,"clip":true},
 "encoding":{"x":{"field":"i","type":"quantitative","scale":{"domain":[-0.1667,225.17],"nice":false,"zero":false},"axis":null},
  "y":{"field":"l","type":"quantitative","scale":{"domain":[6372.35,6634.1],"nice":false,"zero":false},"axis":null},
  "y2":{"field":"h"},
  "stroke":{"field":"col","type":"nominal","scale":{"domain":["b","k","r"],"range":["#0000ff","#000000","#ff0000"]},"legend":null}}},
{"data":{"name":"candles"},"mark":{"type":"bar","size":4,"strokeWidth":1,"clip":true},
 "encoding":{"x":{"field":"i","type":"quantitative","scale":{"domain":[-0.1667,225.17],"nice":false,"zero":false},"axis":null},
  "y":{"field":"o","type":"quantitative","scale":{"domain":[6372.35,6634.1],"nice":false,"zero":false},"axis":null},
  "y2":{"field":"c"},
  "fill":{"condition":{"test":"datum.c > datum.o","value":"#ffffff"},"field":"col","type":"nominal","scale":{"domain":["b","k","r"],"range":["#0000ff","#000000","#ff0000"]},"legend":null},
  "stroke":{"field":"col","type":"nominal","scale":{"domain":["b","k","r"],"range":["#0000ff","#000000","#ff0000"]},"legend":null}}},
{"data":{"name":"labelsBlue"},"mark":{"type":"text","color":"#0000ff","fontSize":13,"fontWeight":"bold","font":"Liberation Sans","baseline":"middle","align":"center","clip":true},
 "encoding":{"x":{"field":"i","type":"quantitative","scale":{"domain":[-0.1667,225.17],"nice":false,"zero":false},"axis":null},
  "y":{"field":"p","type":"quantitative","scale":{"domain":[6372.35,6634.1],"nice":false,"zero":false},"axis":null},"text":{"field":"t"}}},
{"data":{"name":"labelsRed"},"mark":{"type":"text","color":"#ff0000","fontSize":13,"fontWeight":"bold","font":"Liberation Sans","baseline":"middle","align":"center","clip":true},
 "encoding":{"x":{"field":"i","type":"quantitative","scale":{"domain":[-0.1667,225.17],"nice":false,"zero":false},"axis":null},
  "y":{"field":"p","type":"quantitative","scale":{"domain":[6372.35,6634.1],"nice":false,"zero":false},"axis":null},"text":{"field":"t"}}},
{"data":{"name":"labelsBlack"},"mark":{"type":"text","color":"#000000","fontSize":14,"fontWeight":"bold","font":"Liberation Sans","baseline":"middle","align":"center","clip":true},
 "encoding":{"x":{"field":"i","type":"quantitative","scale":{"domain":[-0.1667,225.17],"nice":false,"zero":false},"axis":null},
  "y":{"field":"p","type":"quantitative","scale":{"domain":[6372.35,6634.1],"nice":false,"zero":false},"axis":null},"text":{"field":"t"}}},
{"data":{"name":"circles"},"mark":{"type":"point","shape":"circle","filled":true,"size":210,"color":"#0000ff","stroke":"#000060","strokeWidth":1,"opacity":1,"clip":true},
 "encoding":{"x":{"field":"i","type":"quantitative","scale":{"domain":[-0.1667,225.17],"nice":false,"zero":false},"axis":null},
  "y":{"field":"p","type":"quantitative","scale":{"domain":[6372.35,6634.1],"nice":false,"zero":false},"axis":null}}},
{"data":{"name":"circles"},"mark":{"type":"text","color":"#ffffff","fontSize":12,"fontWeight":"bold","font":"Liberation Sans","baseline":"middle","align":"center","dy":1,"clip":true},
 "encoding":{"x":{"field":"i","type":"quantitative","scale":{"domain":[-0.1667,225.17],"nice":false,"zero":false},"axis":null},
  "y":{"field":"p","type":"quantitative","scale":{"domain":[6372.35,6634.1],"nice":false,"zero":false},"axis":null},"text":{"field":"t"}}},
{"data":{"name":"axisLine"},"mark":{"type":"rule","color":"#000000","strokeWidth":1},
 "encoding":{"x":{"field":"i","type":"quantitative","scale":{"domain":[-0.1667,225.17],"nice":false,"zero":false},"axis":null}}},
{"data":{"name":"mainMinor"},"mark":{"type":"rule","color":"#000000","strokeWidth":1},
 "encoding":{"y":{"field":"p","type":"quantitative","scale":{"domain":[6372.35,6634.1],"nice":false,"zero":false},"axis":null},
  "x":{"datum":225.17,"type":"quantitative","scale":{"domain":[-0.1667,225.17],"nice":false,"zero":false},"axis":null},"x2":{"datum":225.75}}},
{"data":{"name":"mainTicks"},"mark":{"type":"rule","color":"#000000","strokeWidth":1},
 "encoding":{"y":{"field":"p","type":"quantitative","scale":{"domain":[6372.35,6634.1],"nice":false,"zero":false},"axis":null},
  "x":{"datum":225.17,"type":"quantitative","scale":{"domain":[-0.1667,225.17],"nice":false,"zero":false},"axis":null},"x2":{"datum":226.17}}},
{"data":{"name":"mainTicks"},"mark":{"type":"text","color":"#000000","fontSize":12,"fontWeight":"bold","font":"Liberation Sans","baseline":"middle","align":"left"},
 "encoding":{"y":{"field":"p","type":"quantitative","scale":{"domain":[6372.35,6634.1],"nice":false,"zero":false},"axis":null},
  "x":{"datum":226.5,"type":"quantitative","scale":{"domain":[-0.1667,225.17],"nice":false,"zero":false},"axis":null},"text":{"field":"t"}}},
{"data":{"name":"priceBox"},"mark":{"type":"rect","fill":"#ffffe0","stroke":"#000000","strokeWidth":1},
 "encoding":{"x":{"datum":225.6,"type":"quantitative","scale":{"domain":[-0.1667,225.17],"nice":false,"zero":false},"axis":null},"x2":{"datum":231.8},
  "y":{"field":"top","type":"quantitative","scale":{"domain":[6372.35,6634.1],"nice":false,"zero":false},"axis":null},"y2":{"field":"bottom"}}},
{"data":{"name":"priceBox"},"mark":{"type":"text","color":"#000000","fontSize":12,"fontWeight":"bold","font":"Liberation Sans","baseline":"middle","align":"left"},
 "encoding":{"x":{"datum":226.2,"type":"quantitative","scale":{"domain":[-0.1667,225.17],"nice":false,"zero":false},"axis":null},
  "y":{"field":"p","type":"quantitative","scale":{"domain":[6372.35,6634.1],"nice":false,"zero":false},"axis":null},"text":{"field":"t"}}}
]
},
{
"width":1352,"height":224,
"resolve":{"scale":{"strokeDash":"independent","color":"independent"}},
"layer":[
{"data":{"name":"stochGrid"},"mark":{"type":"rule","color":"#008080","strokeWidth":1,"clip":true},
 "encoding":{"y":{"field":"v","type":"quantitative","scale":{"domain":[-9.04,110.1],"nice":false,"zero":false},"axis":null},
  "x":{"datum":-0.17,"type":"quantitative","scale":{"domain":[-0.1667,225.17],"nice":false,"zero":false},"axis":null},"x2":{"datum":224.6},
  "strokeDash":{"field":"kind","type":"nominal","scale":{"domain":["dense","sparse"],"range":[[1,5],[1,35]]},"legend":null}}},
{"data":{"name":"vGrid"},"mark":{"type":"rule","color":"#008080","strokeWidth":1,"strokeDash":[1,13],"clip":true},
 "encoding":{"x":{"field":"i","type":"quantitative","scale":{"domain":[-0.1667,225.17],"nice":false,"zero":false},"axis":null}}},
{"data":{"name":"stochLevels"},"mark":{"type":"rule","color":"#808000","strokeWidth":1,"clip":true},
 "encoding":{"y":{"field":"v","type":"quantitative","scale":{"domain":[-9.04,110.1],"nice":false,"zero":false},"axis":null},
  "x":{"datum":-0.17,"type":"quantitative","scale":{"domain":[-0.1667,225.17],"nice":false,"zero":false},"axis":null},"x2":{"datum":225.17}}},
{"data":{"name":"vMark"},"mark":{"type":"rule","color":"#808020","strokeWidth":1,"clip":true},
 "encoding":{"x":{"field":"i","type":"quantitative","scale":{"domain":[-0.1667,225.17],"nice":false,"zero":false},"axis":null}}},
{"data":{"name":"sep"},"mark":{"type":"rule","color":"#909090","strokeWidth":2,"clip":true},
 "encoding":{"y":{"field":"v","type":"quantitative","scale":{"domain":[-9.04,110.1],"nice":false,"zero":false},"axis":null}}},
{"data":{"name":"stochBars"},"mark":{"type":"rule","color":"#0000ff","strokeWidth":4,"clip":true},
 "encoding":{"y":{"field":"v","type":"quantitative","scale":{"domain":[-9.04,110.1],"nice":false,"zero":false},"axis":null},
  "x":{"field":"x1","type":"quantitative","scale":{"domain":[-0.1667,225.17],"nice":false,"zero":false},"axis":null},"x2":{"field":"x2"}}},
{"data":{"name":"stochD"},"mark":{"type":"line","color":"#ff0000","strokeWidth":1,"clip":true},
 "encoding":{"x":{"field":"i","type":"quantitative","scale":{"domain":[-0.1667,225.17],"nice":false,"zero":false},"axis":null},
  "y":{"field":"v","type":"quantitative","scale":{"domain":[-9.04,110.1],"nice":false,"zero":false},"axis":null}}},
{"data":{"name":"stochK"},"mark":{"type":"line","color":"#0000ff","strokeWidth":1,"clip":true},
 "encoding":{"x":{"field":"i","type":"quantitative","scale":{"domain":[-0.1667,225.17],"nice":false,"zero":false},"axis":null},
  "y":{"field":"v","type":"quantitative","scale":{"domain":[-9.04,110.1],"nice":false,"zero":false},"axis":null}}},
{"data":{"name":"axisLine"},"mark":{"type":"rule","color":"#000000","strokeWidth":1},
 "encoding":{"x":{"field":"i","type":"quantitative","scale":{"domain":[-0.1667,225.17],"nice":false,"zero":false},"axis":null}}},
{"data":{"name":"stochMinor"},"mark":{"type":"rule","color":"#000000","strokeWidth":1},
 "encoding":{"y":{"field":"v","type":"quantitative","scale":{"domain":[-9.04,110.1],"nice":false,"zero":false},"axis":null},
  "x":{"datum":225.17,"type":"quantitative","scale":{"domain":[-0.1667,225.17],"nice":false,"zero":false},"axis":null},"x2":{"datum":225.75}}},
{"data":{"name":"stochTicks"},"mark":{"type":"rule","color":"#000000","strokeWidth":1},
 "encoding":{"y":{"field":"v","type":"quantitative","scale":{"domain":[-9.04,110.1],"nice":false,"zero":false},"axis":null},
  "x":{"datum":225.17,"type":"quantitative","scale":{"domain":[-0.1667,225.17],"nice":false,"zero":false},"axis":null},"x2":{"datum":226.17}}},
{"data":{"name":"stochTicks"},"mark":{"type":"text","color":"#000000","fontSize":12,"fontWeight":"bold","font":"Liberation Sans","baseline":"middle","align":"left"},
 "encoding":{"y":{"field":"v","type":"quantitative","scale":{"domain":[-9.04,110.1],"nice":false,"zero":false},"axis":null},
  "x":{"datum":226.5,"type":"quantitative","scale":{"domain":[-0.1667,225.17],"nice":false,"zero":false},"axis":null},"text":{"field":"t"}}},
{"data":{"name":"stochBox"},"mark":{"type":"rect","fill":"#ffffe0","stroke":"#000000","strokeWidth":1},
 "encoding":{"x":{"datum":225.6,"type":"quantitative","scale":{"domain":[-0.1667,225.17],"nice":false,"zero":false},"axis":null},"x2":{"datum":231.8},
  "y":{"field":"top","type":"quantitative","scale":{"domain":[-9.04,110.1],"nice":false,"zero":false},"axis":null},"y2":{"field":"bottom"}}},
{"data":{"name":"stochBox"},"mark":{"type":"text","color":"#000000","fontSize":12,"fontWeight":"bold","font":"Liberation Sans","baseline":"middle","align":"left"},
 "encoding":{"x":{"datum":227.8,"type":"quantitative","scale":{"domain":[-0.1667,225.17],"nice":false,"zero":false},"axis":null},
  "y":{"field":"mid","type":"quantitative","scale":{"domain":[-9.04,110.1],"nice":false,"zero":false},"axis":null},"text":{"field":"t"}}}
]
}
]
}
